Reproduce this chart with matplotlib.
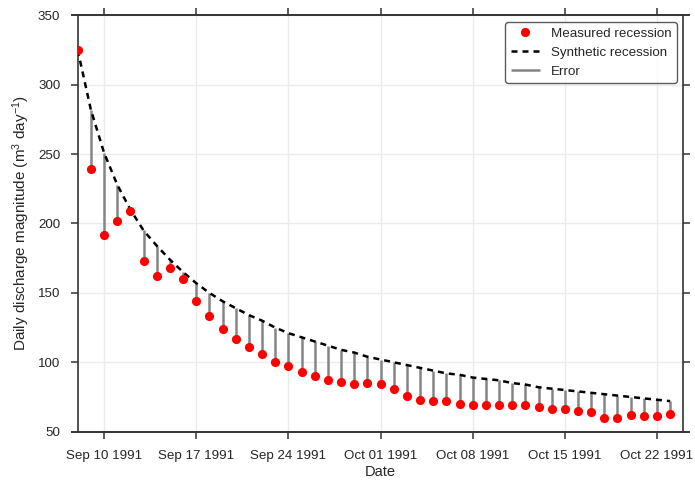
import matplotlib
matplotlib.use("Agg")
import matplotlib.pyplot as plt
import matplotlib.dates as mdates
import pandas as pd

INK = "#262626"
SPINE = "#333333"

plt.rcParams.update({
    "font.family": ["Liberation Sans", "DejaVu Sans"],
    "mathtext.fontset": "custom",
    "mathtext.rm": "Liberation Sans",
    "mathtext.it": "Liberation Sans:italic",
    "text.color": INK,
    "axes.labelcolor": INK,
    "xtick.color": INK,
    "ytick.color": INK,
})

# daily discharge, Sep 8 - Oct 23 1991
start = "1991-09-08"
measured = [325, 239, 192, 202, 209, 173, 162, 168, 160, 144,
            133, 124, 117, 111, 106, 100, 97, 93, 90, 87,
            86, 84, 85, 84, 81, 76, 73, 72, 72, 70,
            69, 69, 69, 69, 69, 68, 66, 66, 65, 64,
            60, 60, 62, 61, 61, 63]
synthetic = [325, 282, 251, 228, 210, 195, 184, 174, 165, 157,
             150, 144, 139, 134, 130, 125, 121, 118, 115, 112,
             109, 107, 104, 102, 100, 98, 96, 94, 92, 91,
             89, 88, 87, 85, 84, 82, 81, 80, 79, 78,
             77, 76, 75, 74, 73, 72]
dates = pd.date_range(start, periods=len(measured), freq="D")

fig = plt.figure(figsize=(6.95, 4.84), dpi=100, facecolor="white")
ax = fig.add_axes([0.1118, 0.1081, 0.8714, 0.8603])

ax.grid(True, color="#ebebeb", linewidth=1.0, zorder=0)
ax.set_axisbelow(True)

err = ax.vlines(dates, measured, synthetic, colors="#858585", linewidth=1.8,
                zorder=2, label="Error")
syn, = ax.plot(dates, synthetic, color="black", linewidth=1.8,
               dashes=(2.4, 2.0), zorder=3, label="Synthetic recession")
meas, = ax.plot(dates, measured, "o", color="red", markersize=6.6,
                markeredgewidth=0, zorder=4, label="Measured recession")

ax.set_xlim(dates[0], dates[-1] + pd.Timedelta(days=1))
ax.set_ylim(50, 350)
ax.set_yticks(range(50, 351, 50))
ax.xaxis.set_major_locator(mdates.WeekdayLocator(byweekday=mdates.TU))
ax.xaxis.set_major_formatter(mdates.DateFormatter("%b %d %Y"))

ax.tick_params(direction="out", length=5, width=1.1, labelsize=9.6,
               top=True, right=True, color=SPINE)
ax.tick_params(axis="x", pad=8.5)
ax.tick_params(axis="y", pad=7.5)
for s in ax.spines.values():
    s.set_color(SPINE)
    s.set_linewidth(1.2)

# horizontal frame lines run out to the tick ends
ext = 5 * 100 / 72 / (ax.get_position().width * fig.get_figwidth() * fig.dpi)
for yy in (0, 1):
    ax.plot([-ext, 1 + ext], [yy, yy], transform=ax.transAxes, color=SPINE,
            linewidth=1.2, clip_on=False, zorder=5, solid_capstyle="butt")

ax.set_xlabel("Date", fontsize=10.5, labelpad=2)
ax.set_ylabel("Daily discharge magnitude (m$^3$ day$^{-1}$)", fontsize=11,
              labelpad=4)

leg = ax.legend(handles=[meas, syn, err], loc="upper right", fontsize=9.6,
                frameon=True, fancybox=True, edgecolor=SPINE,
                borderaxespad=0.5, handlelength=2.2)
leg.get_frame().set_linewidth(1.0)

fig.savefig("out.png", dpi=100, facecolor="white")
